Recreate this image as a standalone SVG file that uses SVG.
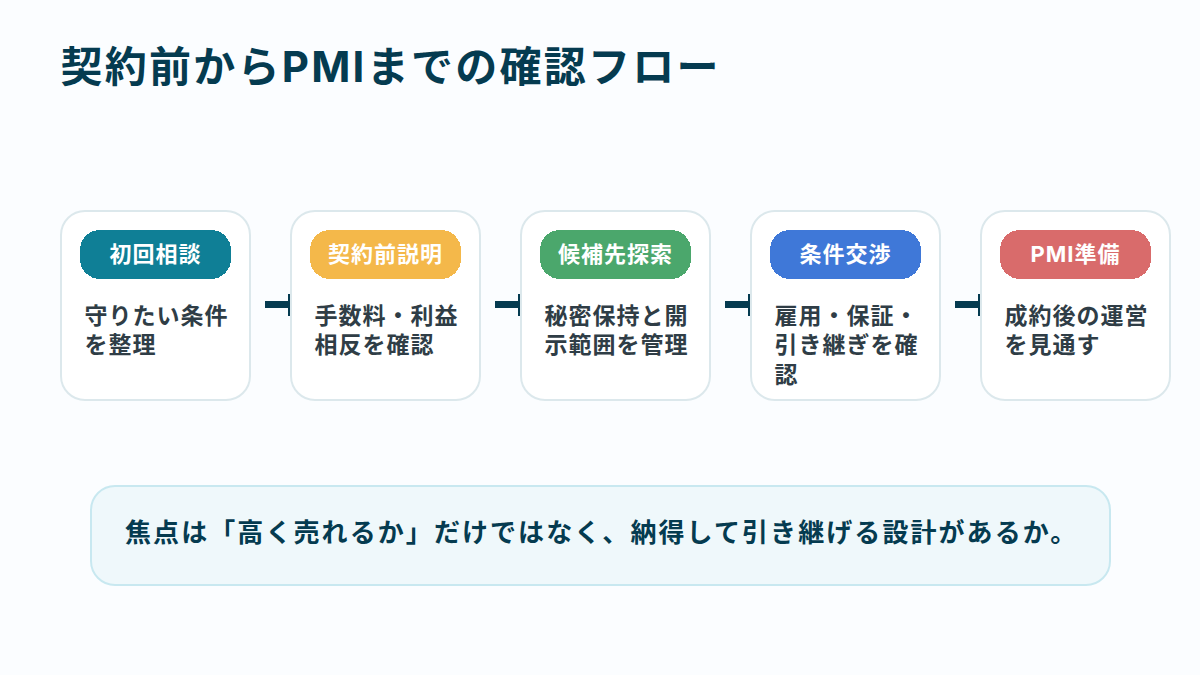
<svg xmlns="http://www.w3.org/2000/svg" width="1200" height="675" viewBox="0 0 1200 675">
<style>
text{font-family:Inter,"Noto Sans CJK JP",sans-serif}
.card{fill:#fff;stroke:#dce8ec;stroke-width:2}
.pill{shape-rendering:crispEdges}
.badge{font-size:22px;font-weight:700;fill:#fff;text-anchor:middle;letter-spacing:1px}
.body{font-size:23px;font-weight:700;fill:#2f3d46;letter-spacing:1px}
.conn{fill:#053b50}
</style>
<rect width="1200" height="675" fill="#fbfdff"/>
<text id="title" x="60.500" y="82" font-size="42" font-weight="700" fill="#053b50" letter-spacing="2.250">契約前からPMIまでの確認フロー</text>
<g id="connectors">
<rect class="conn" x="265" y="301" width="24" height="7"/><rect class="conn" x="288" y="294" width="2" height="22"/>
<rect class="conn" x="495" y="301" width="24" height="7"/><rect class="conn" x="518" y="294" width="2" height="22"/>
<rect class="conn" x="725" y="301" width="24" height="7"/><rect class="conn" x="748" y="294" width="2" height="22"/>
<rect class="conn" x="955" y="301" width="24" height="7"/><rect class="conn" x="978" y="294" width="2" height="22"/>
</g>
<g id="n1"><rect class="card" x="61" y="211" width="189" height="189" rx="24"/><rect class="pill" x="80" y="230" width="151" height="49" rx="20" fill="#0f7f96"/><text class="badge" x="155.500" y="262">初回相談</text><text class="body" x="84.500" y="324">守りたい条件</text><text class="body" x="84.500" y="353">を整理</text></g>
<g id="n2"><rect class="card" x="291" y="211" width="189" height="189" rx="24"/><rect class="pill" x="310" y="230" width="151" height="49" rx="20" fill="#f4b84a"/><text class="badge" x="385.500" y="262">契約前説明</text><text class="body" x="314.500" y="324">手数料・利益</text><text class="body" x="314.500" y="353">相反を確認</text></g>
<g id="n3"><rect class="card" x="521" y="211" width="189" height="189" rx="24"/><rect class="pill" x="540" y="230" width="151" height="49" rx="20" fill="#4ba76c"/><text class="badge" x="615.500" y="262">候補先探索</text><text class="body" x="544.500" y="324">秘密保持と開</text><text class="body" x="544.500" y="353">示範囲を管理</text></g>
<g id="n4"><rect class="card" x="751" y="211" width="189" height="189" rx="24"/><rect class="pill" x="770" y="230" width="151" height="49" rx="20" fill="#3f78d8"/><text class="badge" x="845.500" y="262">条件交渉</text><text class="body" x="774.500" y="324">雇用・保証・</text><text class="body" x="774.500" y="353">引き継ぎを確</text><text class="body" x="774.500" y="383">認</text></g>
<g id="n5"><rect class="card" x="981" y="211" width="189" height="189" rx="24"/><rect class="pill" x="1000" y="230" width="151" height="49" rx="20" fill="#d96b6b"/><text class="badge" x="1075.500" y="262">PMI準備</text><text class="body" x="1004.500" y="324">成約後の運営</text><text class="body" x="1004.500" y="353">を見通す</text></g>
<g id="note"><rect x="91" y="486" width="1019" height="99" rx="24" fill="#eff8fb" stroke="#c8e8f0" stroke-width="2"/><text x="125" y="542" font-size="26" font-weight="700" fill="#053b50" letter-spacing="2.080">焦点は「高く売れるか」だけではなく、納得して引き継げる設計があるか。</text></g>
</svg>
